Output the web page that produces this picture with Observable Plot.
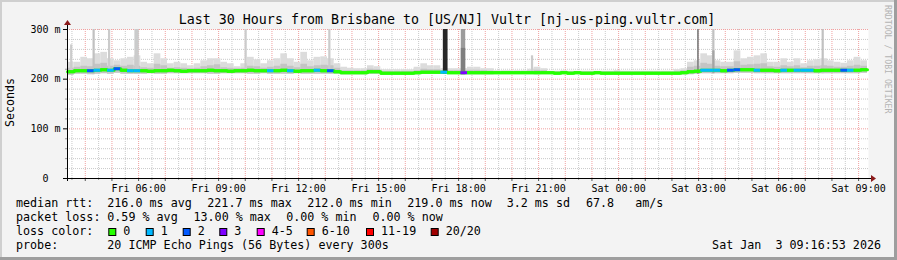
<!DOCTYPE html>
<html><head><meta charset="utf-8">
<script src="https://cdn.jsdelivr.net/npm/d3@7"></script>
<script src="https://cdn.jsdelivr.net/npm/@observablehq/plot@0.6"></script>
<style>html,body{margin:0;padding:0;background:#f3f3f3;}svg{display:block}</style>
</head><body><div id="chart"></div>
<script>
// ---------------- data ----------------
const startHour = 3 + 20 / 60;       // Fri 03:20 (hours since Fri 00:00)
const spanHours = 30;
const binMinutes = 15;

const median = [
 215,217,217,217,218,219,218,221,218,217,
 217,217,216,217,217,218,217,216,217,217,
 217,218,217,217,216,217,217,218,217,217,
 217,217,218,217,216,217,217,218,217,217,
 215,213,213,213,213,215,215,212,212,212,
 212,212,213,214,214,214,214,213,213,213,
 213,213,213,213,213,213,213,213,213,213,
 213,213,213,212,213,212,213,212,212,213,
 212,212,212,212,212,212,212,212,212,212,
 212,212,213,215,216,218,218,218,217,218,
 219,219,219,218,218,218,217,218,218,218,
 218,218,217,218,218,218,218,218,218,219];
const smokeHi = [
 234,234,244,241,251,254,241,237,241,244,
 247,234,231,251,241,231,234,231,227,231,
 237,241,241,234,231,225,231,244,239,231,
 237,241,251,241,234,254,237,244,245,241,
 231,224,222,221,221,227,225,219,219,219,
 219,219,224,231,227,227,221,221,221,221,
 224,224,221,221,217,217,217,217,217,220,
 224,221,216,216,217,216,216,216,216,216,
 216,216,217,216,216,216,216,216,216,216,
 216,219,221,234,237,251,247,237,234,234,
 257,241,244,247,251,234,234,241,234,241,
 231,237,239,241,237,234,232,237,244,237];
const smokeMid = [
 222,224,226,225,230,232,226,228,226,228,
 226,223,222,230,227,222,223,222,221,222,
 225,227,229,223,222,221,222,226,225,222,
 224,226,230,226,223,230,225,227,228,227,
 222,217,217,217,217,220,219,215,215,215,
 215,215,217,220,219,219,217,217,217,217,
 218,218,217,216,215,215,215,215,215,216,
 218,217,214,214,215,214,214,214,214,214,
 214,214,215,214,214,214,214,214,214,214,
 214,215,217,224,226,232,230,226,225,225,
 235,228,229,230,231,225,224,227,225,227,
 223,226,226,227,226,224,224,226,228,226];
const smokeLo = [
 208,210,210,209,210,211,210,212,210,210,
 210,210,211,210,210,211,211,211,211,211,
 211,210,210,211,211,211,211,210,210,211,
 210,210,210,210,211,210,210,210,210,210,
 210,209,209,209,209,210,210,209,209,209,
 209,209,209,210,210,210,210,210,210,209,
 209,209,209,209,210,210,210,210,210,210,
 209,210,210,210,210,210,210,210,210,210,
 210,210,210,210,210,210,210,210,210,210,
 210,209,209,209,210,211,211,211,211,211,
 212,212,212,211,211,211,211,211,211,211,
 211,211,211,211,211,211,211,211,211,212];
const lossCount = [
 0,0,0,2,1,0,1,2,0,1,
 1,0,0,0,0,0,0,0,0,0,
 0,0,0,0,0,0,0,0,0,0,
 1,0,0,1,0,0,0,1,0,2,
 0,0,0,0,0,0,0,0,0,0,
 0,0,0,0,0,0,1,0,0,3,
 0,0,0,0,0,0,0,0,0,0,
 0,0,0,0,0,0,0,0,0,0,
 0,0,0,0,0,0,0,0,0,0,
 0,0,0,0,0,1,1,1,0,2,
 2,0,0,1,0,0,0,1,0,1,
 1,1,0,0,0,0,2,1,0,0];

// isolated tall smoke spikes
const spikeHour    = [3.45, 4.29, 4.87, 5.86, 9.99, 13.13, 17.43, 18.10, 20.73, 26.96, 27.53, 31.63];
const spikeTop     = [269, 300, 300, 300, 300, 300, 300, 300, 247, 300, 300, 300];
const spikeCore    = [null, null, null, null, null, null, 300, 262, null, null, 257, null];
const spikeDensity = [2, 3, 2, 2, 2, 2, 16, 7, 2, 9, 3, 3];
const spikeMinutes = [5, 5, 5, 10, 5, 5, 10, 10, 5, 4, 5, 5];

const xTickHours  = [6, 9, 12, 15, 18, 21, 24, 27, 30, 33];
const xTickLabels = ["Fri 06:00","Fri 09:00","Fri 12:00","Fri 15:00","Fri 18:00","Fri 21:00","Sat 00:00","Sat 03:00","Sat 06:00","Sat 09:00"];
const yTicks = [0, 100, 200, 300];
const yTickLabels = ["0\u00a0\u00a0", "100 m", "200 m", "300 m"];

const lossLabels = ["0", "1", "2", "3", "4-5", "6-10", "11-19", "20/20"];
const lossColors = ["#26ff00", "#00b8ff", "#0059ff", "#7e00ff", "#ff00ff", "#ff5500", "#ff0000", "#a00000"];
const lossUpper  = [0, 1, 2, 3, 5, 10, 19, 20];

const titleText = "Last 30 Hours from Brisbane to [US/NJ] Vultr [nj-us-ping.vultr.com]";
const rttStats  = ["216.0 ms avg", "221.7 ms max", "212.0 ms min", "219.0 ms now", "3.2 ms sd", "67.8   am/s"];
const lossStats = ["0.59 % avg", "13.00 % max", "0.00 % min", "0.00 % now"];
const probeText = "20 ICMP Echo Pings (56 Bytes) every 300s";
const dateText  = "Sat Jan  3 09:16:53 2026";

// ---------------- build ----------------
const MONO = "DejaVu Sans Mono";
const endHour = startHour + spanHours;
const lossColor = n => lossColors[lossUpper.findIndex(u => n <= u)];
const gray = d => d3.interpolateRgb("#dedede", "#1e1e1e")(d / 20);

const bins = median.map((m, i) => ({
  t0: startHour + i * binMinutes / 60,
  t1: startHour + (i + 1) * binMinutes / 60,
  median: m, lo: smokeLo[i], mid: smokeMid[i], hi: smokeHi[i], loss: lossCount[i]
}));
const binAt = h => bins[Math.max(0, Math.min(bins.length - 1, Math.floor((h - startHour) * 60 / binMinutes)))];
const spikes = spikeHour.map((h, i) => ({
  t0: h, t1: h + spikeMinutes[i] / 60, top: spikeTop[i], core: spikeCore[i],
  density: spikeDensity[i], base: binAt(h).lo
}));
const linePts = bins.map(b => ({t: b.t0, m: b.median})).concat([{t: bins[bins.length - 1].t1, m: bins[bins.length - 1].median}]);

const halfHours = d3.range(Math.ceil(startHour * 2) / 2, endHour + 1e-9, 0.5);
const hours = halfHours.filter(h => Math.abs(h - Math.round(h)) < 1e-9);
const minorX = halfHours.filter(h => !hours.includes(h));
const minorY = d3.range(0, 301, 20).filter(v => v % 100 !== 0);
const dotted = {strokeDasharray: "1,1", strokeWidth: 1};

const chart = Plot.plot({
  width: 897, height: 260,
  marginLeft: 67, marginRight: 30, marginTop: 29, marginBottom: 82,
  style: {background: "#f3f3f3", fontFamily: MONO, fontSize: "10px", color: "#000", overflow: "visible"},
  x: {domain: [startHour, endHour], axis: null},
  y: {domain: [0, 300], axis: null},
  marks: [
    Plot.frame({fill: "white", stroke: "none", insetRight: -1}),
    // minor grid
    Plot.ruleY(minorY, {stroke: "#c9c9c9", insetRight: -1, ...dotted}),
    Plot.ruleX(minorX, {stroke: "#c9c9c9", ...dotted}),
    // major grid
    Plot.ruleY([100, 200, 300], {stroke: "#f0a0a0", insetRight: -1, ...dotted}),
    Plot.ruleX(hours, {stroke: "#f0a0a0", ...dotted}),
    // smoke
    Plot.rectY(bins, {x1: "t0", x2: "t1", y1: "lo", y2: "hi", fill: "#dcdcdc"}),
    Plot.rectY(bins, {x1: "t0", x2: "t1", y1: "lo", y2: "mid", fill: "#c4c4c4"}),
    Plot.rectY(spikes, {x1: "t0", x2: "t1", y1: "base", y2: "top", fill: d => gray(d.density)}),
    Plot.rectY(spikes.filter(d => d.core != null), {x1: "t0", x2: "t1", y1: "base", y2: "core", fill: d => gray(Math.min(20, d.density + 3))}),
    // median line coloured by loss
    Plot.line(linePts, {x: "t", y: "m", curve: "step-after", stroke: "#26ff00", strokeWidth: 3}),
    Plot.ruleY(bins, {y: "median", x1: "t0", x2: "t1", stroke: d => lossColor(d.loss), strokeWidth: 3}),
    // axes
    Plot.axisY({ticks: minorY, tickSize: 2, tickFormat: () => "", stroke: "#999"}),
    Plot.axisY({ticks: yTicks, tickSize: 4, tickPadding: 3, fontSize: 10, tickFormat: v => yTickLabels[yTicks.indexOf(v)]}),
    Plot.axisX({ticks: minorX, tickSize: 2, tickFormat: () => "", stroke: "#999"}),
    Plot.axisX({ticks: hours, tickSize: 3, tickFormat: () => "", stroke: "#555"}),
    Plot.axisX({ticks: xTickHours, tickSize: 0, tickPadding: 6, fontSize: 10, tickFormat: v => xTickLabels[xTickHours.indexOf(v)]}),
    Plot.ruleY([0], {stroke: "#000", insetLeft: -4, insetRight: -4}),
    Plot.ruleX([startHour], {stroke: "#000", insetTop: -5, insetBottom: -3})
  ]
});
document.getElementById("chart").appendChild(chart);

// ---------------- decorations ----------------
const svg = d3.select(chart);
const sx = chart.scale("x"), sy = chart.scale("y");
const x0 = sx.apply(startHour), x1 = sx.apply(endHour), y0 = sy.apply(0), yTop = sy.apply(300);
const arrow = "#8b1a1a";
svg.append("polygon").attr("fill", arrow)
  .attr("points", `${x1 + 4},${y0 - 3} ${x1 + 4},${y0 + 4} ${x1 + 9},${y0 + 0.5}`);
svg.append("polygon").attr("fill", arrow)
  .attr("points", `${x0 - 3},${yTop - 4} ${x0 + 4},${yTop - 4} ${x0 + 0.5},${yTop - 9}`);

function txt(x, y, s, size, o = {}) {
  const t = svg.append("text").attr("x", x).attr("y", y)
    .attr("font-family", MONO).attr("font-size", size)
    .attr("text-anchor", o.anchor || "start")
    .attr("fill", o.fill || "#000").style("white-space", "pre").text(s);
  if (o.transform) t.attr("transform", o.transform);
  return t;
}
txt(447, 24, titleText, 13.3, {anchor: "middle"});
txt(0, 0, "Seconds", 11.6, {anchor: "middle", transform: "translate(14.3,102.5) rotate(-90)"});
txt(0, 0, "RRDTOOL / TOBI OETIKER", 8.2, {fill: "#b4b4b4", transform: "translate(885,5) rotate(90)"});

const LF = 11.7;
const rows = [207, 221, 235, 249];
txt(16, rows[0], "median rtt:", LF);
[107.3, 207.3, 307.3, 407.3, 506.7, 586].forEach((x, i) => txt(x, rows[0], rttStats[i], LF));
txt(16, rows[1], "packet loss:", LF);
[107.3, 193.5, 286.2, 372.4].forEach((x, i) => txt(x, rows[1], lossStats[i], LF));
txt(16, rows[2], "loss color:", LF);
const boxX = [108.3, 145.7, 182.7, 219.3, 256.7, 306.7, 366, 430.7];
lossLabels.forEach((lab, i) => {
  svg.append("rect").attr("x", boxX[i] + 0.5).attr("y", rows[2] - 6.5).attr("width", 7).attr("height", 7)
    .attr("fill", lossColors[i]).attr("stroke", "#000").attr("stroke-width", 1);
  txt(boxX[i] + 15, rows[2], lab, LF);
});
txt(16, rows[3], "probe:", LF);
txt(107.3, rows[3], probeText, LF);
txt(881, rows[3], dateText, LF, {anchor: "end"});

// 3D frame
svg.append("rect").attr("x", 0).attr("y", 0).attr("width", 897).attr("height", 2).attr("fill", "#cfcfcf");
svg.append("rect").attr("x", 0).attr("y", 0).attr("width", 2).attr("height", 260).attr("fill", "#cfcfcf");
svg.append("rect").attr("x", 0).attr("y", 257).attr("width", 897).attr("height", 3).attr("fill", "#9e9e9e");
svg.append("rect").attr("x", 894).attr("y", 0).attr("width", 3).attr("height", 260).attr("fill", "#9e9e9e");
</script></body></html>
